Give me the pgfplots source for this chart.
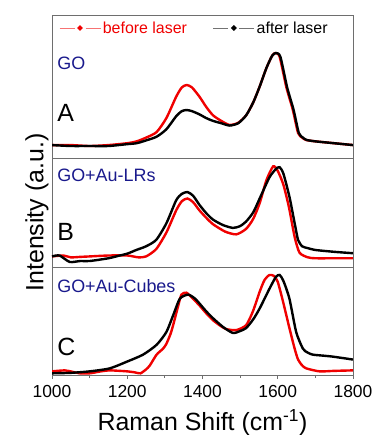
\documentclass[border=0pt]{standalone}
\usepackage{pgfplots}
\pgfplotsset{compat=1.18}
\usepackage{fontspec}
\setmainfont{Liberation Sans}
\definecolor{navy}{RGB}{25,25,140}
\definecolor{framegray}{RGB}{110,110,110}
\definecolor{myred}{RGB}{240,0,0}
\pgfplotsset{
  panel/.style={scale only axis, width=301bp, xmin=1000, xmax=1800,
    ytick=\empty, xtick=\empty,
    axis line style={framegray, line width=0.9bp},
    every axis plot/.append style={line width=2.4bp, smooth, tension=0.4, no marks},
    clip=true},
}
\tikzset{
  samplelbl/.style={anchor=west, font=\fontsize{18}{20}\selectfont, text=navy, inner sep=0pt},
  panelletter/.style={anchor=west, font=\fontsize{25}{28}\selectfont, inner sep=0pt},
}
\begin{document}
\begin{tikzpicture}
\useasboundingbox (-52bp,15bp) rectangle (323bp,-420bp);
% Panel A
\begin{axis}[panel, name=A, at={(0,0)}, anchor=north west, height=143bp,
  ymin=-0.129, ymax=1.409,
  legend style={at={(rel axis cs:0.473,0.909)}, anchor=center, draw=none, fill=none,
    legend columns=2, font=\fontsize{16}{18}\selectfont,
    /tikz/every even column/.append style={column sep=24bp}},
  legend image code/.code={
    \draw[#1, line width=0.7bp, opacity=0.55] (0bp,0bp)--(15bp,0bp);
    \fill[#1] (20.5bp,0bp) circle (1.2bp);
    \draw[#1, line width=0.7bp, opacity=0.55] (26bp,0bp)--(41bp,0bp);}]
\addplot[myred] coordinates {(1000,0.01)(1050,0.01)(1100,0.0)(1150,0.01)(1200,0.03)(1225,0.05)(1250,0.09)(1278,0.15)(1304,0.30)(1330,0.53)(1345,0.63)(1358,0.656)(1372,0.63)(1392,0.53)(1410,0.42)(1428,0.33)(1450,0.27)(1472,0.226)(1495,0.25)(1516,0.33)(1535,0.47)(1552,0.64)(1570,0.84)(1585,0.97)(1594,1.0)(1605,0.96)(1623,0.63)(1640,0.39)(1654,0.14)(1665,0.09)(1675,0.065)(1700,0.05)(1750,0.03)(1800,0.01)};
\addlegendentry{\textcolor{myred}{before laser}}
\addplot[black] coordinates {(1000,0.01)(1050,0.0)(1100,0.0)(1150,0.0)(1200,0.02)(1225,0.03)(1250,0.06)(1278,0.10)(1304,0.18)(1330,0.32)(1345,0.375)(1358,0.387)(1372,0.375)(1392,0.34)(1410,0.30)(1428,0.27)(1450,0.245)(1472,0.22)(1495,0.245)(1516,0.33)(1535,0.47)(1552,0.64)(1570,0.84)(1585,0.97)(1595,1.0)(1607,0.96)(1625,0.63)(1642,0.39)(1656,0.14)(1667,0.09)(1677,0.065)(1700,0.05)(1750,0.03)(1800,0.01)};
\addlegendentry{after laser}
\node[samplelbl] at (rel axis cs:0.017,0.664) {GO};
\node[panelletter] at (rel axis cs:0.017,0.315) {A};
\end{axis}
% Panel B
\begin{axis}[panel, name=B, at={(A.south west)}, anchor=north west, height=109bp,
  ymin=-0.095, ymax=1.09,
  ylabel={Intensity (a.u.)}, ylabel style={font=\fontsize{25}{28}\selectfont}]
\addplot[myred] coordinates {(1000,0.02)(1030,0.03)(1050,0.01)(1075,0.015)(1100,0.02)(1150,0.03)(1200,0.03)(1230,0.01)(1250,0.02)(1277,0.10)(1304,0.28)(1330,0.52)(1345,0.62)(1360,0.65)(1375,0.61)(1392,0.52)(1410,0.44)(1428,0.37)(1460,0.29)(1490,0.26)(1516,0.32)(1535,0.43)(1552,0.60)(1570,0.85)(1588,1.0)(1600,0.95)(1615,0.80)(1630,0.55)(1645,0.23)(1658,0.06)(1680,0.01)(1700,0.0)(1750,0.0)(1800,0.0)};
\addplot[black] coordinates {(1000,0.02)(1020,0.03)(1047,-0.04)(1075,-0.03)(1100,-0.03)(1150,0.0)(1180,0.03)(1200,0.05)(1224,0.09)(1250,0.13)(1277,0.20)(1304,0.38)(1330,0.63)(1345,0.70)(1360,0.72)(1375,0.68)(1392,0.58)(1410,0.49)(1428,0.42)(1455,0.36)(1481,0.33)(1500,0.35)(1516,0.40)(1535,0.50)(1552,0.65)(1578,0.88)(1595,0.97)(1605,0.99)(1615,0.92)(1631,0.67)(1645,0.38)(1654,0.2)(1665,0.13)(1680,0.11)(1700,0.09)(1750,0.07)(1800,0.055)};
\node[samplelbl] at (rel axis cs:0.017,0.844) {GO+Au-LRs};
\node[panelletter] at (rel axis cs:0.017,0.321) {B};
\end{axis}
% Panel C
\begin{axis}[panel, name=C, at={(B.south west)}, anchor=north west, height=108bp,
  ymin=-0.017, ymax=1.081,
  xtick={1000,1200,...,1800}, minor x tick num=1, tick align=outside, xtick pos=bottom,
  major tick length=4bp, minor tick length=2.5bp, tick style={framegray, line width=0.8bp},
  /pgf/number format/assume math mode=true,
  /pgf/number format/set thousands separator={},
  xticklabel style={font=\fontsize{17.5}{20}\selectfont, yshift=-3bp},
  xlabel={Raman Shift (cm\textsuperscript{-1})}, xlabel style={font=\fontsize{25}{28}\selectfont, yshift=-5bp}]
\addplot[myred] coordinates {(1000,0.02)(1034,0.03)(1055,0.015)(1074,0.0)(1100,0.0)(1130,0.02)(1153,0.03)(1180,0.025)(1200,0.02)(1220,0.01)(1235,0.0)(1250,0.04)(1260,0.08)(1278,0.19)(1295,0.25)(1304,0.30)(1315,0.40)(1322,0.49)(1335,0.68)(1344,0.80)(1357,0.82)(1372,0.77)(1392,0.69)(1410,0.61)(1428,0.54)(1445,0.49)(1463,0.45)(1490,0.44)(1516,0.49)(1534,0.63)(1552,0.83)(1565,0.95)(1578,1.0)(1590,0.99)(1600,0.93)(1614,0.73)(1631,0.46)(1645,0.25)(1654,0.14)(1665,0.08)(1676,0.05)(1711,0.02)(1750,0.025)(1800,0.03)};
\addplot[black] coordinates {(1000,0.0)(1050,0.005)(1100,0.02)(1153,0.05)(1200,0.12)(1242,0.19)(1278,0.29)(1304,0.42)(1322,0.59)(1340,0.76)(1362,0.80)(1380,0.76)(1392,0.71)(1410,0.63)(1428,0.56)(1455,0.47)(1481,0.41)(1500,0.43)(1516,0.46)(1535,0.55)(1552,0.66)(1578,0.86)(1595,0.98)(1605,1.0)(1615,0.94)(1631,0.76)(1649,0.42)(1667,0.25)(1680,0.21)(1693,0.19)(1720,0.18)(1746,0.17)(1800,0.14)};
\node[samplelbl] at (rel axis cs:0.017,0.827) {GO+Au-Cubes};
\node[panelletter] at (rel axis cs:0.017,0.264) {C};
\end{axis}
\end{tikzpicture}
\end{document}
